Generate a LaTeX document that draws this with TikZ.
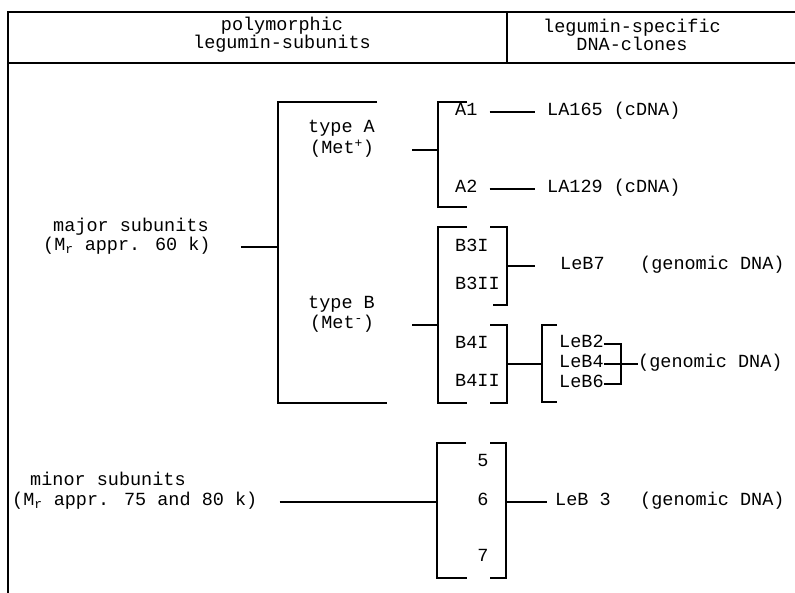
\documentclass[tikz,border=0pt]{standalone}
\usepackage{fontspec}
\setmainfont{Liberation Mono}
\usepackage{tikz}
\usetikzlibrary{positioning}

\begin{document}
\begin{tikzpicture}[x=1pt, y=-1pt,
    lbl/.style={font=\fontsize{18.5}{19}\selectfont, inner sep=0pt, anchor=west, text height=10pt, text depth=3pt},
    hdr/.style={font=\fontsize{18.5}{17}\selectfont, inner sep=0pt, align=center},
    num/.style={lbl, anchor=center},
    con/.style={line width=1.1pt},
    brk/.style={line width=1.1pt}
]
    \useasboundingbox (0,0) rectangle (795,593);

    % header
    \draw[brk] (8,593) -- (8,12) -- (795,12);
    \draw[brk] (8,63) -- (795,63);
    \draw[brk] (507,12) -- (507,63);
    \node[hdr] (poly) at (282,35) {polymorphic\\legumin-subunits};
    \node[hdr] (clones) at (632,35) {legumin-specific\\DNA-clones};

    % major subunits
    \draw[brk] (377,102) -- (278,102) -- (278,403) -- (387,403);
    \coordinate (bigmid) at (278,247);
    \node[lbl] (major) at (53,228) {major subunits};
    \node[lbl] (majorr) at (43,247) {(M\textsubscript{r} appr. 60 k)};
    \draw[con] ([xshift=30pt]majorr.east) -- (bigmid);

    % type A
    \draw[brk] (467,102) -- (438,102) -- (438,207) -- (467,207);
    \coordinate (amid) at (438,150);
    \node[lbl] (typea) at (308,129) {type A};
    \node[lbl] (metp) at (310,150) {(Met\textsuperscript{+})};
    \draw[con] ([xshift=38pt]metp.east) -- (amid);
    \node[lbl] (aone) at (455,112) {A1};
    \node[lbl] (atwo) at (455,189) {A2};
    \node[lbl] (laone) at (547,112) {LA165 (cDNA)};
    \node[lbl] (latwo) at (547,189) {LA129 (cDNA)};
    \draw[con] ([xshift=12pt]aone.east) -- ([xshift=-12pt]laone.west);
    \draw[con] ([xshift=12pt]atwo.east) -- ([xshift=-12pt]latwo.west);

    % type B
    \draw[brk] (467,227) -- (438,227) -- (438,403) -- (467,403);
    \coordinate (bmid) at (438,325);
    \node[lbl] (typeb) at (308,305) {type B};
    \node[lbl] (metm) at (310,325) {(Met\textsuperscript{-})};
    \draw[con] ([xshift=38pt]metm.east) -- (bmid);

    \draw[brk] (490,227) -- (507,227) -- (507,305) -- (493,305);
    \coordinate (bthreemid) at (507,266);
    \node[lbl] (bthreeone) at (455,248) {B3I};
    \node[lbl] (bthreetwo) at (455,286) {B3II};
    \node[lbl] (lebseven) at (560,266) {LeB7};
    \node[lbl] (gdnaseven) at (640,266) {(genomic DNA)};
    \draw[con] (bthreemid) -- ([xshift=-25pt]lebseven.west);

    \draw[brk] (490,325) -- (507,325) -- (507,403) -- (490,403);
    \coordinate (bfourmid) at (507,364);
    \node[lbl] (bfourone) at (455,345) {B4I};
    \node[lbl] (bfourtwo) at (455,383) {B4II};
    \draw[brk] (557,325) -- (542,325) -- (542,402) -- (557,402);
    \coordinate (lebin) at (542,364);
    \draw[con] (bfourmid) -- (lebin);
    \node[lbl] (lebtwo) at (559,344) {LeB2};
    \node[lbl] (lebfour) at (559,364) {LeB4};
    \node[lbl] (lebsix) at (559,384) {LeB6};
    \coordinate (lebjoin) at (621,364);
    \node[lbl] (gdnafour) at (638,364) {(genomic DNA)};
    \draw[con] (lebtwo.east) -| (lebjoin);
    \draw[con] (lebsix.east) -| (lebjoin);
    \draw[con] (lebfour.east) -- (gdnafour.west);

    % minor subunits
    \node[lbl] (minor) at (30,482) {minor subunits};
    \node[lbl] (minorr) at (12,502) {(M\textsubscript{r} appr. 75 and 80 k)};
    \draw[brk] (466,443) -- (437,443) -- (437,578) -- (467,578);
    \draw[brk] (490,443) -- (506,443) -- (506,578) -- (490,578);
    \coordinate (minl) at (437,502);
    \coordinate (minr) at (506,502);
    \node[num] (five) at (483,463) {5};
    \node[num] (six) at (483,502) {6};
    \node[num] (seven) at (483,558) {7};
    \node[lbl] (lebthree) at (555,502) {LeB 3};
    \node[lbl] (gdnathree) at (640,502) {(genomic DNA)};
    \draw[con] ([xshift=22pt]minorr.east) -- (minl);
    \draw[con] (minr) -- ([xshift=-8pt]lebthree.west);
\end{tikzpicture}
\end{document}
